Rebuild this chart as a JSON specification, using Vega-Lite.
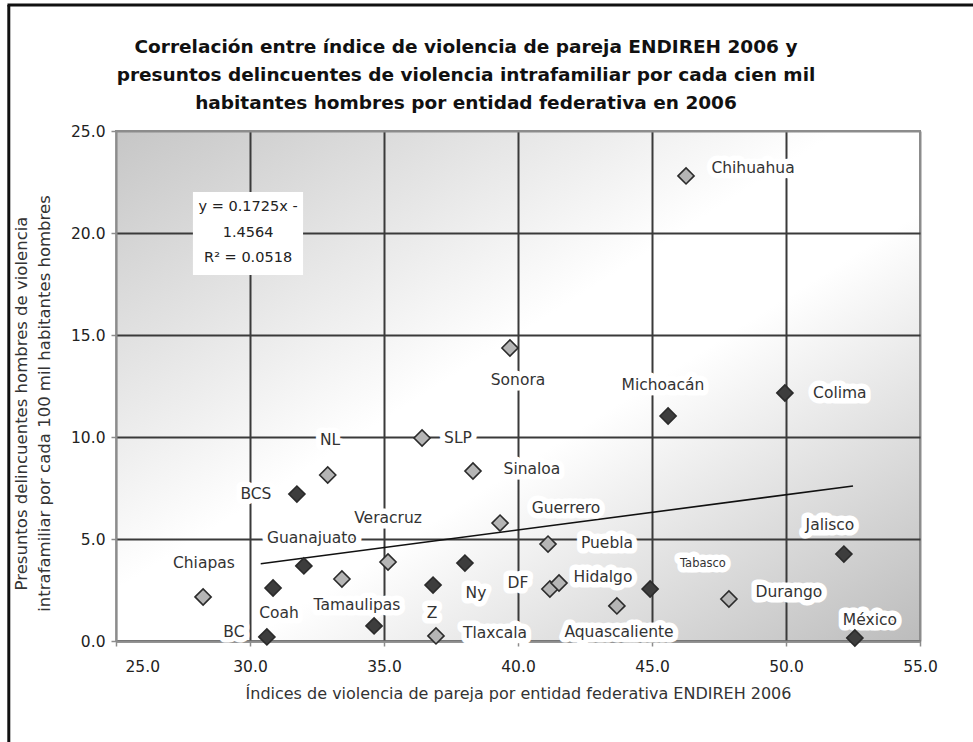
{
  "$schema": "https://vega.github.io/schema/vega-lite/v6.json",
  "width": 804,
  "height": 510,
  "autosize": {"type": "none"},
  "padding": {"left": 116, "top": 131, "right": 53, "bottom": 101},
  "background": "white",
  "config": {
    "font": "DejaVu Sans",
    "view": {
      "fill": {
        "gradient": "linear", "x1": 0, "y1": 0, "x2": 1, "y2": 1,
        "stops": [
          {"offset": 0, "color": "#c6c6c6"},
          {"offset": 0.45, "color": "#ffffff"},
          {"offset": 0.58, "color": "#ffffff"},
          {"offset": 1, "color": "#bcbcbc"}
        ]
      },
      "stroke": "#8c8c8c",
      "strokeWidth": 2
    }
  },
  "title": {
    "text": [
      "Correlación entre índice de violencia de pareja ENDIREH 2006 y",
      "presuntos delincuentes de violencia intrafamiliar por cada cien mil",
      "habitantes hombres por entidad federativa en 2006"
    ],
    "font": "DejaVu Sans",
    "fontSize": 18.5,
    "fontWeight": "bold",
    "color": "#111111",
    "lineHeight": 28,
    "anchor": "middle",
    "frame": "group",
    "dx": -52,
    "dy": 121,
    "offset": 12
  },
  "datasets": {
    "puntos": [
      {"estado": "Chihuahua", "x": 46.27, "y": 22.8, "grupo": "claro"},
      {"estado": "Sonora", "x": 39.7, "y": 14.36, "grupo": "claro"},
      {"estado": "Michoacán", "x": 45.6, "y": 11.03, "grupo": "oscuro"},
      {"estado": "Colima", "x": 49.96, "y": 12.16, "grupo": "oscuro"},
      {"estado": "SLP", "x": 36.42, "y": 9.95, "grupo": "claro"},
      {"estado": "NL", "x": 32.9, "y": 8.14, "grupo": "claro"},
      {"estado": "BCS", "x": 31.75, "y": 7.2, "grupo": "oscuro"},
      {"estado": "Sinaloa", "x": 38.32, "y": 8.33, "grupo": "claro"},
      {"estado": "Guerrero", "x": 39.33, "y": 5.78, "grupo": "claro"},
      {"estado": "Puebla", "x": 41.12, "y": 4.75, "grupo": "claro"},
      {"estado": "Veracruz", "x": 35.15, "y": 3.87, "grupo": "claro"},
      {"estado": "Guanajuato", "x": 32.01, "y": 3.68, "grupo": "oscuro"},
      {"estado": "Ny", "x": 38.02, "y": 3.82, "grupo": "oscuro"},
      {"estado": "Z", "x": 36.83, "y": 2.74, "grupo": "oscuro"},
      {"estado": "Chiapas", "x": 28.25, "y": 2.16, "grupo": "claro"},
      {"estado": "Coah", "x": 30.86, "y": 2.6, "grupo": "oscuro"},
      {"estado": "s/e", "x": 33.43, "y": 3.04, "grupo": "claro"},
      {"estado": "Tamaulipas", "x": 34.63, "y": 0.74, "grupo": "oscuro"},
      {"estado": "Tlaxcala", "x": 36.94, "y": 0.25, "grupo": "claro"},
      {"estado": "BC", "x": 30.63, "y": 0.2, "grupo": "oscuro"},
      {"estado": "DF", "x": 41.19, "y": 2.55, "grupo": "claro"},
      {"estado": "Hidalgo", "x": 41.53, "y": 2.84, "grupo": "claro"},
      {"estado": "Aquascaliente", "x": 43.69, "y": 1.72, "grupo": "claro"},
      {"estado": "Tabasco", "x": 44.93, "y": 2.55, "grupo": "oscuro"},
      {"estado": "Durango", "x": 47.87, "y": 2.06, "grupo": "claro"},
      {"estado": "Jalisco", "x": 52.16, "y": 4.26, "grupo": "oscuro"},
      {"estado": "México", "x": 52.57, "y": 0.15, "grupo": "oscuro"}
    ],
    "etiquetas": [
      {"label": "Chihuahua", "x": 48.77, "y": 23.19},
      {"label": "Sonora", "x": 40.0, "y": 12.79},
      {"label": "Michoacán", "x": 45.41, "y": 12.55},
      {"label": "Colima", "x": 52.01, "y": 12.16},
      {"label": "NL", "x": 32.99, "y": 9.85},
      {"label": "SLP", "x": 37.76, "y": 9.95},
      {"label": "BCS", "x": 30.22, "y": 7.21},
      {"label": "Sinaloa", "x": 40.52, "y": 8.43},
      {"label": "Veracruz", "x": 35.15, "y": 6.03},
      {"label": "Guerrero", "x": 41.79, "y": 6.52},
      {"label": "Guanajuato", "x": 32.31, "y": 5.05},
      {"label": "Jalisco", "x": 51.64, "y": 5.69},
      {"label": "Chiapas", "x": 28.28, "y": 3.82},
      {"label": "Puebla", "x": 43.32, "y": 4.8},
      {"label": "Tabasco", "x": 46.9, "y": 3.77},
      {"label": "Coah", "x": 31.08, "y": 1.37},
      {"label": "Tamaulipas", "x": 33.99, "y": 1.76},
      {"label": "Ny", "x": 38.43, "y": 2.35},
      {"label": "DF", "x": 40.0, "y": 2.84},
      {"label": "Hidalgo", "x": 43.17, "y": 3.14},
      {"label": "Durango", "x": 50.11, "y": 2.4},
      {"label": "Z", "x": 36.79, "y": 1.37},
      {"label": "BC", "x": 29.4, "y": 0.44},
      {"label": "Tlaxcala", "x": 39.14, "y": 0.39},
      {"label": "Aquascaliente", "x": 43.77, "y": 0.44},
      {"label": "México", "x": 53.13, "y": 1.03}
    ],
    "tendencia": [
      {"x": 30.4, "y": 3.788},
      {"x": 52.5, "y": 7.6}
    ]
  },
  "layer": [
    {
      "data": {"values": [{"n": 1}]},
      "mark": {"type": "rule", "color": "#111111", "strokeWidth": 3, "clip": false},
      "encoding": {
        "x": {"datum": 21.0, "type": "quantitative", "scale": {"domain": [25, 55], "nice": false, "zero": false}},
        "y": {"datum": 31.18, "type": "quantitative", "scale": {"domain": [0, 25], "nice": false}},
        "y2": {"datum": -4.95}
      }
    },
    {
      "data": {"values": [{"n": 1}]},
      "mark": {"type": "rule", "color": "#111111", "strokeWidth": 3, "clip": false},
      "encoding": {
        "x": {"datum": 20.95, "type": "quantitative", "scale": {"domain": [25, 55], "nice": false, "zero": false}},
        "x2": {"datum": 56.98},
        "y": {"datum": 31.18, "type": "quantitative", "scale": {"domain": [0, 25], "nice": false}}
      }
    },
    {
      "data": {"name": "tendencia"},
      "mark": {"type": "line", "color": "#111111", "strokeWidth": 1.6},
      "encoding": {
        "x": {"field": "x", "type": "quantitative", "scale": {"domain": [25, 55], "nice": false, "zero": false}},
        "y": {"field": "y", "type": "quantitative", "scale": {"domain": [0, 25], "nice": false}}
      }
    },
    {
      "data": {"values": [{"n": 1}]},
      "mark": {"type": "rect", "fill": "white"},
      "encoding": {
        "x": {"datum": 27.87, "type": "quantitative", "scale": {"domain": [25, 55], "nice": false, "zero": false}},
        "x2": {"datum": 31.98},
        "y": {"datum": 22.01, "type": "quantitative", "scale": {"domain": [0, 25], "nice": false}},
        "y2": {"datum": 17.94}
      }
    },
    {
      "data": {"values": [{"n": 1}]},
      "mark": {"type": "text", "font": "DejaVu Sans", "fontSize": 14.5, "color": "#222222", "lineBreak": "\n", "lineHeight": 25.5, "align": "center", "baseline": "middle"},
      "encoding": {
        "x": {"datum": 29.93, "type": "quantitative", "scale": {"domain": [25, 55], "nice": false, "zero": false}},
        "y": {"datum": 21.27, "type": "quantitative", "scale": {"domain": [0, 25], "nice": false}},
        "text": {"value": "y = 0.1725x -\n1.4564\nR² = 0.0518"}
      }
    },
    {
      "data": {"name": "etiquetas"},
      "mark": {"type": "text", "font": "DejaVu Sans", "fill": "white", "stroke": "white", "strokeWidth": 11, "strokeJoin": "round", "align": "center", "baseline": "middle"},
      "encoding": {
        "x": {"field": "x", "type": "quantitative", "scale": {"domain": [25, 55], "nice": false, "zero": false}},
        "y": {"field": "y", "type": "quantitative", "scale": {"domain": [0, 25], "nice": false}},
        "text": {"field": "label"},
        "size": {"condition": {"test": "datum.label == 'Tabasco'", "value": 11.5}, "value": 15.5}
      }
    },
    {
      "data": {"name": "puntos"},
      "mark": {"type": "point", "shape": "diamond", "filled": true, "size": 260, "stroke": "#2b2b2b", "strokeWidth": 1.6, "opacity": 1},
      "encoding": {
        "x": {
          "field": "x",
          "type": "quantitative",
          "scale": {"domain": [25, 55], "nice": false, "zero": false},
          "axis": {
            "title": "Índices de violencia de pareja por entidad federativa ENDIREH 2006",
            "titleFont": "DejaVu Sans",
            "titleFontSize": 16,
            "titleFontWeight": "normal",
            "titleColor": "#333333",
            "titlePadding": 11,
            "values": [25, 30, 35, 40, 45, 50, 55],
            "format": ".1f",
            "labelFont": "DejaVu Sans",
            "labelFontSize": 15.5,
            "labelColor": "#222222",
            "labelPadding": 13,
            "labelFlush": false,
            "labelAlign": {"expr": "datum.value == 25 ? 'left' : 'center'"},
            "labelOffset": {"expr": "datum.value == 25 ? 9 : 0"},
            "tickColor": "#8c8c8c",
            "tickSize": 5,
            "tickWidth": 1.5,
            "domainColor": "#8c8c8c",
            "domainWidth": 2,
            "grid": true,
            "gridColor": {"expr": "datum.value == 25 ? '#bdbdbd' : datum.value == 55 ? '#8c8c8c' : '#3a3a3a'"},
            "gridWidth": 2,
            "gridOpacity": 1
          }
        },
        "y": {
          "field": "y",
          "type": "quantitative",
          "scale": {"domain": [0, 25], "nice": false},
          "axis": {
            "title": ["Presuntos delincuentes hombres de violencia", "intrafamiliar por cada 100 mil habitantes hombres"],
            "titleFont": "DejaVu Sans",
            "titleFontSize": 16.5,
            "titleFontWeight": "normal",
            "titleColor": "#333333",
            "titleLineHeight": 23,
            "titleAngle": -90,
            "titleAlign": "center",
            "titleBaseline": "middle",
            "titleX": -95,
            "titleY": 272,
            "values": [0, 5, 10, 15, 20, 25],
            "format": ".1f",
            "labelFont": "DejaVu Sans",
            "labelFontSize": 15.5,
            "labelColor": "#222222",
            "labelPadding": 6,
            "tickColor": "#8c8c8c",
            "tickSize": 5,
            "tickWidth": 1.5,
            "domainColor": "#8c8c8c",
            "domainWidth": 2,
            "grid": true,
            "gridColor": {"expr": "datum.value == 25 ? '#8c8c8c' : '#3a3a3a'"},
            "gridWidth": 2,
            "gridOpacity": 1
          }
        },
        "fill": {
          "field": "grupo",
          "type": "nominal",
          "scale": {"domain": ["oscuro", "claro"], "range": ["#3d3d3d", "#b5b5b5"]},
          "legend": null
        }
      }
    },
    {
      "data": {"name": "etiquetas"},
      "mark": {"type": "text", "font": "DejaVu Sans", "color": "#333333", "align": "center", "baseline": "middle"},
      "encoding": {
        "x": {"field": "x", "type": "quantitative", "scale": {"domain": [25, 55], "nice": false, "zero": false}},
        "y": {"field": "y", "type": "quantitative", "scale": {"domain": [0, 25], "nice": false}},
        "text": {"field": "label"},
        "size": {"condition": {"test": "datum.label == 'Tabasco'", "value": 11.5}, "value": 15.5}
      }
    }
  ]
}
